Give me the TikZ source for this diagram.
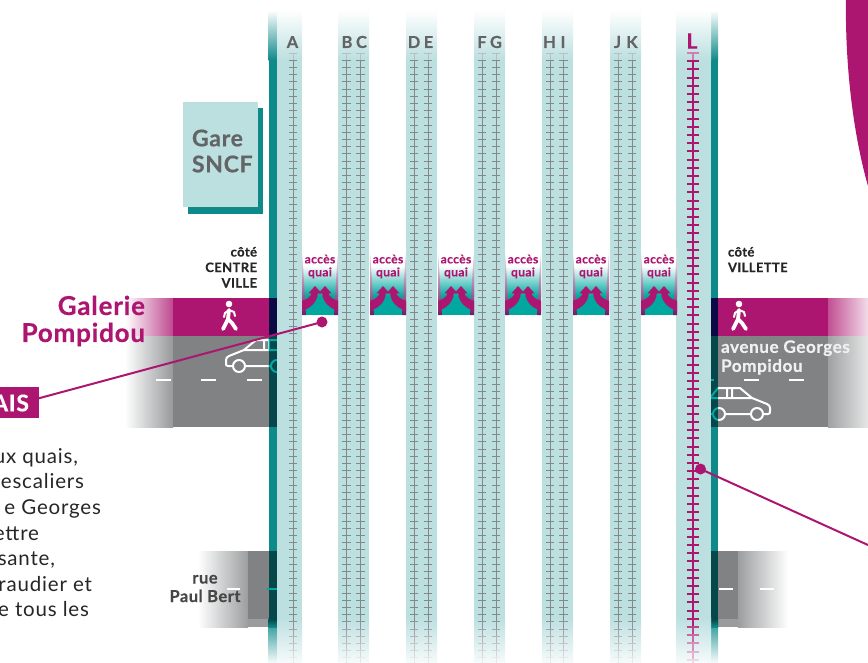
\documentclass[tikz,border=0pt]{standalone}
\usepackage{fontspec}
\setmainfont{Lato}
\newfontfamily\hv[BoldFeatures={FakeBold=0.4,LetterSpace=3}]{Lato}
\newfontfamily\bodyf[LetterSpace=4]{Lato}
\definecolor{mag}{HTML}{AC1570}
\definecolor{strip}{HTML}{BCDFE0}
\definecolor{tealbar}{HTML}{0F8A8A}
\definecolor{teala}{HTML}{00A89F}
\definecolor{road}{HTML}{808284}
\definecolor{darkroad}{HTML}{05474A}
\definecolor{navy}{HTML}{0C0A45}
\definecolor{trackgrey}{HTML}{85888B}
\definecolor{labelgrey}{HTML}{636466}
\definecolor{sliver}{HTML}{6B1D68}
\tikzset{
  x=1pt,y=-1pt,
  every node/.style={inner sep=0pt,outer sep=0pt},
  tracklabel/.style={font=\fontsize{16.5}{16.5}\selectfont\hv\bfseries,text=labelgrey},
  sidelabel/.style={font=\fontsize{13}{15.5}\selectfont\hv\bfseries,text=black!85},
  bodytext/.style={font=\fontsize{20.5}{20.5}\selectfont\bodyf,text=black!85,anchor=base east},
  acclabel/.style={font=\fontsize{12}{13}\selectfont\hv\bfseries,text=mag,align=center},
  carpic/.pic={
    \draw[pic actions,line width=2,line join=round]
      (6.5,0) -- (2,0) .. controls (0,0) and (0,-1) .. (0,-3) -- (0,-6)
      .. controls (0,-8) and (1,-9) .. (3,-10) -- (18,-16) -- (30,-26) -- (52,-26) -- (60,-16) -- (67,-16) -- (67,0) -- (57,0)
      (19.5,0) -- (44.5,0)
      (18,-16) -- (60,-16) (38,-25) -- (38,-16) (43,-25) -- (43,-16)
      (13,0) circle[radius=6] (51,0) circle[radius=6];
  },
  walker/.pic={
    \fill[white] (0,-12) circle[radius=3.3];
    \draw[white,line width=3.8,line cap=round,line join=round]
      (0,-6) -- (-1,3) -- (-6,13) (-1,3) -- (3,7) -- (7,13);
    \draw[white,line width=2,line cap=round,line join=round]
      (0,-6) -- (5,-4) -- (6,0) (0,-6) -- (-4,-3) -- (-5,1);
  }
}
\begin{document}
\begin{tikzpicture}
\useasboundingbox (0,0) rectangle (868,662);
% big arc
\fill[mag] (846,-1) .. controls (845,60) and (852,130) .. (868,186) -- (868,-1) -- cycle;
% Gare SNCF
\fill[tealbar] (188,108) rectangle (263,214);
\node[fill=strip,minimum width=75,minimum height=105,anchor=north west] (gare) at (183,102) {};
\node[font=\fontsize{23}{26}\selectfont\hv\bfseries,text=labelgrey,align=left,anchor=west] (garetxt) at (192,151) {Gare\\SNCF};
% Galerie band
\shade[left color=white,right color=mag!78!white] (125,298) rectangle (173,336);
\fill[mag] (173,298) rectangle (268.7,336);
\fill[mag] (718,298) rectangle (828,336);
\shade[left color=mag!75!white,right color=mag!15!white] (828,298) rectangle (868,336);
% avenue road
\shade[left color=white,right color=road!82!white] (125,336) rectangle (173,427);
\fill[road] (173,336) rectangle (268.7,427);
\fill[road] (718,336) rectangle (828,427);
\shade[left color=road!75!white,right color=road!20!white] (828,336) rectangle (868,427);
% rue Paul Bert
\shade[left color=white,right color=road!78!white] (198,551) rectangle (248,627);
\fill[road] (248,551) rectangle (268.7,627);
\fill[road!80!white] (248,619) rectangle (268.7,627);
\fill[road] (718,551) rectangle (738,627);
\fill[road!80!white] (718,619) rectangle (741,627);
\shade[left color=road!78!white,right color=white] (738,551) rectangle (788,627);
% road dashes
\foreach \a/\b/\c in {156/171/380,201/216/380,247/262/380,744/759/380,789/804/380,227/240/589,719/733/589,760/774/589}
  \fill[white] (\a,\c-1) rectangle (\b,\c+1);
% cars
\pic[draw=white] at (226,366) {carpic};
\pic[draw=white] at (770,414) [xscale=-1] {carpic};
% teal side bars
\shade[top color=white,bottom color=tealbar] (268.7,10) rectangle (277,60);
\fill[tealbar] (268.7,60) rectangle (277,617);
\shade[top color=tealbar,bottom color=tealbar!5!white] (268.7,617) rectangle (277,662);
\shade[top color=white,bottom color=tealbar] (711,10) rectangle (718,60);
\fill[tealbar] (711,60) rectangle (718,617);
\shade[top color=tealbar,bottom color=tealbar!5!white] (711,617) rectangle (718,662);
% dark crossing bands
\fill[navy] (268.7,298) rectangle (277,336);
\fill[navy] (711,298) rectangle (718,336);
\fill[darkroad] (268.7,336) rectangle (277,427);
\fill[darkroad] (711,336) rectangle (718,427);
\fill[darkroad] (268.7,551) rectangle (277,619);
\shade[top color=darkroad,bottom color=tealbar] (268.7,619) rectangle (277,627);
\fill[darkroad] (711,551) rectangle (718,619);
\shade[top color=darkroad,bottom color=tealbar] (711,619) rectangle (718,627);
\fill[teala] (267,588) rectangle (277,590);
\fill[teala] (711,379) rectangle (714,381);
% car parts seen over the dark bands
\begin{scope}
  \clip (268.7,336) rectangle (277,427);
  \pic[draw=teala] at (226,366) {carpic};
\end{scope}
\begin{scope}
  \clip (711,336) rectangle (718,427);
  \pic[draw=teala] at (770,414) [xscale=-1] {carpic};
\end{scope}
% walkers
\pic at (229,316) {walker};
\pic at (739,316) {walker};
% light strips
\foreach \a/\b in {277/302,338/369,406/437,474/505,542/573,610/641,676/711}{
  \shade[top color=white,bottom color=strip] (\a,10) rectangle (\b,60);
  \fill[strip] (\a,60) rectangle (\b,617);
  \shade[top color=strip,bottom color=strip!15!white] (\a,617) rectangle (\b,662);
}
% grey tracks
\foreach \tx in {293,346.5,360.5,414,428,482,496,550,563.5,618,632}{
  \foreach \ty in {53,60.2,...,662}{
    \pgfmathsetmacro{\tp}{\ty>617 ? 100-1.95*(\ty-617) : (\ty<58 ? 55 : 100)}
    \draw[trackgrey!\tp!white,line width=1] (\tx,\ty) -- (\tx,\ty+7.2) (\tx-4.2,\ty) -- (\tx+4.2,\ty);
  }
}
% track L
\foreach \ty in {53,61.2,...,662}{
  \pgfmathsetmacro{\tp}{\ty>617 ? 100-1.95*(\ty-617) : (\ty<58 ? 55 : 100)}
  \draw[mag!\tp!white,line width=2] (692.5,\ty) -- (692.5,\ty+8.2) (686.5,\ty) -- (698.5,\ty);
}
% access blocks
\foreach \bx/\bn in {302/a,370/b,438/c,505/d,573/e,641/f}{
  \begin{scope}[shift={(\bx+18,0)}]
    \shade[top color=white,bottom color=teala] (-18,266) rectangle (18,296);
    \fill[teala] (-18,296) rectangle (18,315);
    \foreach \s in {1,-1}{
      \begin{scope}[xscale=\s]
        \shade[top color=white,bottom color=sliver] (-18,248) -- (-18,315) -- (-14,315) -- cycle;
        \fill[mag] (-18,301) .. controls (-13,299) and (-9,297) .. (-8.6,293.3) -- (-11.5,293.3) -- (-5,286) -- (1.5,293.3)
          -- (-2.2,293.3) .. controls (-3,303) and (-10,308) .. (-18,311) -- cycle;
      \end{scope}
    }
    \node[acclabel] (acc\bn) at (0,266.5) {accès\\quai};
  \end{scope}
}
% track letters
\foreach \tx/\tl/\tn in {292.5/A/a,347/B/b,361.5/C/c,414/D/d,428.5/E/e,482/F/f,496/G/g,549.5/H/h,563/I/i,617.5/J/j,632/K/k}
  \node[tracklabel] (t\tn) at (\tx,42) {\tl};
\node[font=\fontsize{21}{21}\selectfont\hv\bfseries,text=mag] (tl) at (692,41) {L};
% side labels
\node[sidelabel,align=right,anchor=north east] (centre) at (257,247) {côté\\CENTRE\\VILLE};
\node[sidelabel,align=left,anchor=north west] (villette) at (728,247) {côté\\VILLETTE};
\node[font=\fontsize{26}{27}\selectfont\hv\bfseries,text=mag,align=right,anchor=east] (galerie) at (145,321) {Galerie\\Pompidou};
\node[font=\fontsize{17.2}{19}\selectfont\hv\bfseries,text=white!88!road,align=left,anchor=west] (avenue) at (721,357.5) {avenue Georges\\Pompidou};
\node[font=\fontsize{16.5}{18.5}\selectfont\hv\bfseries,text=black!72,align=center] (paulbert) at (205,588.5) {rue\\Paul Bert};
% callouts
\node[fill=mag,minimum width=39,minimum height=31,anchor=north west] (aisbox) at (-0.5,387) {};
\node[font=\fontsize{23}{23}\selectfont\hv\bfseries,text=white,anchor=east] (aistext) at (29,403) {AIS};
\coordinate (aisout) at (38,398.5);
\coordinate (dotl) at (322,322);
\coordinate (dotr) at (700.5,469);
\coordinate (outr) at (868,545);
\fill[mag] (dotl) circle[radius=5.5];
\fill[mag] (dotr) circle[radius=5.5];
\draw[mag,line width=2] (aisout) -- (dotl);
\draw[mag,line width=2] (dotr) -- (outr);
% cropped paragraph
\node[bodytext] (p1) at (78,463) {ux quais,};
\node[bodytext] (p2) at (84,488.5) {escaliers};
\node[bodytext] (p3) at (101,514) {e Georges};
\node[bodytext] (p4) at (39,540) {ettre};
\node[bodytext] (p5) at (55,565) {sante,};
\node[bodytext] (p6) at (92,591) {raudier et};
\node[bodytext] (p7) at (89,616.5) {e tous les};
\end{tikzpicture}
\end{document}
